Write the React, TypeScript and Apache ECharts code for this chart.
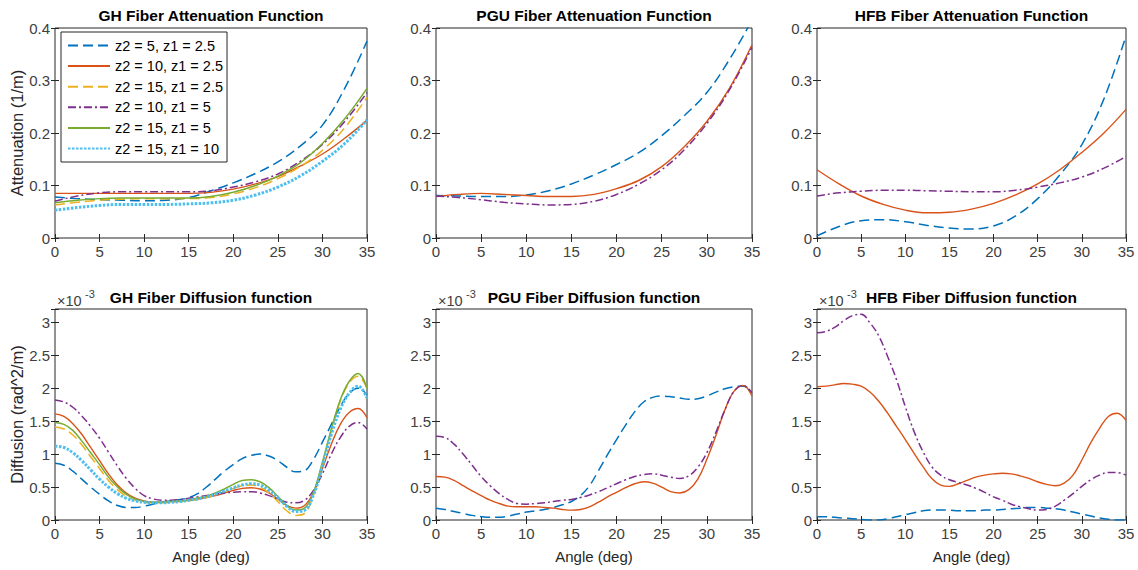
import React, { useEffect, useRef } from 'react';
import * as echarts from 'echarts';

// ---------- data ----------
const ANGLES_ATT = [0, 2.5, 5, 7.5, 10, 12.5, 15, 17.5, 20, 22.5, 25, 27.5, 30, 32.5, 35];
const ANGLES_DIFF = [0, 1, 2, 3, 4, 5, 6, 7, 8, 9, 10, 11, 12, 13, 14, 15, 16, 17, 18, 19, 20, 21, 22, 23, 24, 25, 26, 27, 28, 29, 30, 31, 32, 33, 34, 35];

const SERIES_NAMES = ['z2 = 5, z1 = 2.5', 'z2 = 10, z1 = 2.5', 'z2 = 15, z1 = 2.5', 'z2 = 10, z1 = 5', 'z2 = 15, z1 = 5', 'z2 = 15, z1 = 10'];
const SERIES_COLORS = ['#0072BD', '#D95319', '#EDB120', '#7E2F8E', '#77AC30', '#4DBEEE'];

const PANEL_TITLES = [
  'GH Fiber Attenuation Function',
  'PGU Fiber Attenuation Function',
  'HFB Fiber Attenuation Function',
  'GH Fiber Diffusion function',
  'PGU Fiber Diffusion function',
  'HFB Fiber Diffusion function',
];

// GH attenuation (1/m)
const ghAtt_5_25 = [0.078, 0.075, 0.073, 0.072, 0.071, 0.072, 0.077, 0.09, 0.105, 0.123, 0.145, 0.175, 0.215, 0.285, 0.375];
const ghAtt_10_25 = [0.085, 0.085, 0.085, 0.085, 0.085, 0.085, 0.085, 0.087, 0.093, 0.103, 0.117, 0.137, 0.16, 0.19, 0.224];
const ghAtt_15_25 = [0.063, 0.068, 0.072, 0.074, 0.075, 0.075, 0.075, 0.077, 0.084, 0.096, 0.113, 0.136, 0.167, 0.21, 0.268];
const ghAtt_10_5 = [0.07, 0.08, 0.086, 0.088, 0.088, 0.088, 0.088, 0.09, 0.097, 0.107, 0.122, 0.146, 0.178, 0.222, 0.277];
const ghAtt_15_5 = [0.067, 0.072, 0.075, 0.076, 0.076, 0.076, 0.076, 0.079, 0.087, 0.1, 0.118, 0.143, 0.18, 0.227, 0.285];
const ghAtt_15_10 = [0.053, 0.058, 0.062, 0.064, 0.064, 0.064, 0.065, 0.067, 0.072, 0.082, 0.097, 0.118, 0.146, 0.18, 0.225];

// PGU attenuation
const pguAtt_5_25 = [0.081, 0.08, 0.079, 0.079, 0.082, 0.09, 0.103, 0.12, 0.14, 0.163, 0.195, 0.233, 0.277, 0.34, 0.415];
const pguAtt_10_25 = [0.079, 0.083, 0.085, 0.083, 0.081, 0.079, 0.079, 0.083, 0.094, 0.11, 0.136, 0.174, 0.222, 0.285, 0.368];
const pguAtt_10_5 = [0.08, 0.077, 0.073, 0.068, 0.065, 0.063, 0.064, 0.07, 0.083, 0.103, 0.13, 0.168, 0.218, 0.282, 0.363];

// HFB attenuation
const hfbAtt_5_25 = [0.004, 0.022, 0.033, 0.035, 0.031, 0.024, 0.019, 0.017, 0.023, 0.042, 0.075, 0.12, 0.178, 0.265, 0.385];
const hfbAtt_10_25 = [0.13, 0.103, 0.08, 0.064, 0.053, 0.048, 0.049, 0.055, 0.066, 0.082, 0.103, 0.13, 0.163, 0.2, 0.245];
const hfbAtt_10_5 = [0.08, 0.086, 0.089, 0.091, 0.091, 0.09, 0.089, 0.088, 0.088, 0.091, 0.097, 0.105, 0.116, 0.133, 0.155];

// GH diffusion (x 1e-3 rad^2/m)
const ghDiff_5_25 = [0.86, 0.83, 0.74, 0.62, 0.5, 0.39, 0.29, 0.22, 0.19, 0.19, 0.21, 0.24, 0.27, 0.29, 0.31, 0.34, 0.4, 0.5, 0.62, 0.74, 0.84, 0.93, 0.98, 1.0, 0.97, 0.9, 0.8, 0.73, 0.75, 0.92, 1.18, 1.45, 1.72, 1.92, 2.0, 1.9];
const ghDiff_10_25 = [1.61, 1.57, 1.46, 1.3, 1.1, 0.9, 0.7, 0.53, 0.41, 0.33, 0.29, 0.27, 0.27, 0.28, 0.29, 0.3, 0.32, 0.34, 0.37, 0.41, 0.45, 0.48, 0.49, 0.47, 0.41, 0.32, 0.22, 0.18, 0.22, 0.42, 0.78, 1.15, 1.45, 1.63, 1.69, 1.55];
const ghDiff_15_25 = [1.41, 1.38, 1.29, 1.14, 0.96, 0.78, 0.6, 0.46, 0.36, 0.3, 0.27, 0.26, 0.26, 0.27, 0.28, 0.29, 0.31, 0.34, 0.38, 0.43, 0.48, 0.52, 0.53, 0.5, 0.41, 0.28, 0.14, 0.07, 0.1, 0.38, 0.85, 1.35, 1.8, 2.08, 2.18, 1.99];
const ghDiff_10_5 = [1.82, 1.79, 1.71, 1.58, 1.42, 1.24, 1.03, 0.82, 0.63, 0.48, 0.37, 0.32, 0.3, 0.3, 0.31, 0.33, 0.35, 0.37, 0.39, 0.41, 0.42, 0.43, 0.43, 0.41, 0.37, 0.32, 0.27, 0.26, 0.3, 0.45, 0.7, 1.0, 1.25, 1.42, 1.48, 1.38];
const ghDiff_15_5 = [1.48, 1.45, 1.36, 1.2, 1.02, 0.84, 0.65, 0.5, 0.39, 0.32, 0.28, 0.27, 0.27, 0.28, 0.29, 0.3, 0.33, 0.36, 0.41, 0.47, 0.54, 0.6, 0.61, 0.58, 0.49, 0.36, 0.22, 0.15, 0.18, 0.42, 0.88, 1.38, 1.82, 2.1, 2.22, 2.0];
const ghDiff_15_10 = [1.12, 1.1, 1.02, 0.9, 0.76, 0.62, 0.5, 0.4, 0.33, 0.29, 0.27, 0.26, 0.26, 0.27, 0.28, 0.3, 0.32, 0.35, 0.39, 0.44, 0.49, 0.53, 0.55, 0.53, 0.45, 0.34, 0.21, 0.13, 0.15, 0.38, 0.82, 1.3, 1.68, 1.92, 2.03, 1.85];

// PGU diffusion
const pguDiff_5_25 = [0.18, 0.16, 0.13, 0.1, 0.07, 0.05, 0.04, 0.04, 0.06, 0.09, 0.12, 0.14, 0.16, 0.19, 0.23, 0.28, 0.37, 0.52, 0.75, 0.99, 1.22, 1.44, 1.64, 1.79, 1.86, 1.88, 1.87, 1.85, 1.83, 1.84, 1.88, 1.94, 1.99, 2.02, 2.03, 1.98];
const pguDiff_10_25 = [0.66, 0.65, 0.6, 0.52, 0.44, 0.37, 0.3, 0.25, 0.21, 0.2, 0.2, 0.2, 0.19, 0.18, 0.16, 0.15, 0.16, 0.2, 0.27, 0.35, 0.42, 0.49, 0.55, 0.58, 0.56, 0.5, 0.43, 0.41, 0.46, 0.62, 0.92, 1.28, 1.67, 1.95, 2.04, 1.88];
const pguDiff_10_5 = [1.27, 1.25, 1.15, 1.0, 0.83, 0.66, 0.52, 0.4, 0.31, 0.25, 0.24, 0.25, 0.26, 0.28, 0.3, 0.31, 0.34, 0.38, 0.43, 0.49, 0.55, 0.61, 0.66, 0.69, 0.7, 0.68, 0.65, 0.63, 0.67, 0.8, 1.02, 1.33, 1.67, 1.95, 2.04, 1.93];

// HFB diffusion
const hfbDiff_5_25 = [0.05, 0.05, 0.04, 0.03, 0.02, 0.01, 0.0, 0.0, 0.02, 0.05, 0.08, 0.11, 0.14, 0.15, 0.15, 0.15, 0.14, 0.14, 0.14, 0.15, 0.15, 0.16, 0.17, 0.18, 0.19, 0.19, 0.18, 0.17, 0.15, 0.12, 0.09, 0.06, 0.03, 0.01, 0.0, 0.0];
const hfbDiff_10_25 = [2.02, 2.03, 2.05, 2.07, 2.06, 2.03, 1.94, 1.8, 1.62, 1.42, 1.22, 1.01, 0.81, 0.63, 0.53, 0.51, 0.55, 0.6, 0.65, 0.68, 0.7, 0.71, 0.7, 0.67, 0.63, 0.58, 0.54, 0.52, 0.56, 0.68, 0.91, 1.17, 1.39, 1.57, 1.62, 1.51];
const hfbDiff_10_5 = [2.84, 2.86, 2.92, 3.02, 3.1, 3.12, 2.99, 2.79, 2.48, 2.13, 1.72, 1.34, 1.04, 0.81, 0.68, 0.61, 0.57, 0.53, 0.48, 0.42, 0.35, 0.3, 0.24, 0.2, 0.17, 0.15, 0.16, 0.21, 0.3, 0.4, 0.51, 0.61, 0.68, 0.72, 0.72, 0.68];

// each panel: x values and [seriesIndex, values] pairs
const PANELS: { x: number[]; lines: [number, number[]][] }[] = [
  { x: ANGLES_ATT, lines: [[0, ghAtt_5_25], [1, ghAtt_10_25], [2, ghAtt_15_25], [3, ghAtt_10_5], [4, ghAtt_15_5], [5, ghAtt_15_10]] },
  { x: ANGLES_ATT, lines: [[0, pguAtt_5_25], [1, pguAtt_10_25], [3, pguAtt_10_5]] },
  { x: ANGLES_ATT, lines: [[0, hfbAtt_5_25], [1, hfbAtt_10_25], [3, hfbAtt_10_5]] },
  { x: ANGLES_DIFF, lines: [[0, ghDiff_5_25], [1, ghDiff_10_25], [2, ghDiff_15_25], [3, ghDiff_10_5], [4, ghDiff_15_5], [5, ghDiff_15_10]] },
  { x: ANGLES_DIFF, lines: [[0, pguDiff_5_25], [1, pguDiff_10_25], [3, pguDiff_10_5]] },
  { x: ANGLES_DIFF, lines: [[0, hfbDiff_5_25], [1, hfbDiff_10_25], [3, hfbDiff_10_5]] },
];

// ---------- styles / layout ----------
const FONT = '"Liberation Sans", Arial, Helvetica, sans-serif';
const AXIS_COLOR = '#262626';
const LABEL_COLOR = '#404040';
const LINE_TYPES: any[] = [[10, 5], 'solid', [10, 5], [8, 3, 2, 3], 'solid', [2.5, 1.5]];
const LINE_WIDTHS = [1.5, 1.4, 1.5, 1.5, 1.5, 3];
const COLS = [
  { left: 55, width: 312 },
  { left: 436, width: 316 },
  { left: 817, width: 309 },
];
const ROWS = [
  { top: 28, height: 210 },
  { top: 309, height: 211 },
];

function buildOption() {
  const grid: any[] = [];
  const xAxis: any[] = [];
  const yAxis: any[] = [];
  const series: any[] = [];
  const graphic: any[] = [];

  PANELS.forEach((panel, i) => {
    const col = COLS[i % 3];
    const row = ROWS[Math.floor(i / 3)];
    const isBottom = i >= 3;
    grid.push({
      left: col.left, top: row.top, width: col.width, height: row.height,
      show: true, borderColor: AXIS_COLOR, borderWidth: 1, backgroundColor: '#fff',
    });
    const tick = { show: true, inside: true, length: 4, lineStyle: { color: AXIS_COLOR, width: 1 } };
    const xBase = {
      type: 'value', gridIndex: i, min: 0, max: 35, interval: 5,
      splitLine: { show: false }, axisLine: { show: false }, axisTick: tick,
    };
    xAxis.push({
      ...xBase, position: 'bottom',
      axisLabel: { show: true, margin: 6, color: LABEL_COLOR, fontSize: 15, fontFamily: FONT },
      name: isBottom ? 'Angle (deg)' : '', nameLocation: 'middle', nameGap: 29,
      nameTextStyle: { color: AXIS_COLOR, fontSize: 15, fontFamily: FONT },
    });
    xAxis.push({ ...xBase, position: 'top', axisLabel: { show: false } });

    const yMax = isBottom ? 3.2 : 0.4;
    const yInt = isBottom ? 0.5 : 0.1;
    const yBase = {
      type: 'value', gridIndex: i, min: 0, max: yMax, interval: yInt,
      splitLine: { show: false }, axisLine: { show: false }, axisTick: tick,
    };
    const yName = i === 0 ? 'Attenuation (1/m)' : i === 3 ? 'Diffusion (rad^2/m)' : '';
    yAxis.push({
      ...yBase, position: 'left',
      axisLabel: {
        show: true, margin: 5, color: LABEL_COLOR, fontSize: 15, fontFamily: FONT,
        formatter: (v: number) => {
          const k = v / yInt;
          return Math.abs(k - Math.round(k)) < 1e-6 ? String(+v.toFixed(2)) : '';
        },
      },
      name: yName, nameLocation: 'middle', nameGap: 30,
      nameTextStyle: { color: AXIS_COLOR, fontSize: 16.5, fontFamily: FONT },
    });
    yAxis.push({ ...yBase, position: 'right', axisLabel: { show: false } });

    panel.lines.forEach(([si, vals]) => {
      series.push({
        type: 'line', name: SERIES_NAMES[si],
        xAxisIndex: 2 * i, yAxisIndex: 2 * i,
        data: panel.x.map((xv, k) => [xv, vals[k]]),
        symbol: 'none', showSymbol: false, smooth: 0.4, clip: true,
        lineStyle: { color: SERIES_COLORS[si], width: LINE_WIDTHS[si], type: LINE_TYPES[si] },
        itemStyle: { color: SERIES_COLORS[si] },
        emphasis: { disabled: true },
      });
    });

    graphic.push({
      type: 'text', x: col.left + col.width / 2, y: isBottom ? 297.5 : 15.5, z: 10,
      style: {
        text: PANEL_TITLES[i], fill: '#000', fontSize: 15.5, fontWeight: 'bold', fontFamily: FONT,
        align: 'center', verticalAlign: 'middle',
      },
    });
    if (isBottom) {
      graphic.push({
        type: 'text', x: col.left + 2, y: 301, z: 10,
        style: { text: '×10', fill: LABEL_COLOR, fontSize: 14.5, fontFamily: FONT, align: 'left', verticalAlign: 'middle' },
      });
      graphic.push({
        type: 'text', x: col.left + 30, y: 294, z: 10,
        style: { text: '-3', fill: LABEL_COLOR, fontSize: 11, fontFamily: FONT, align: 'left', verticalAlign: 'middle' },
      });
    }
  });

  return {
    animation: false,
    backgroundColor: '#fff',
    grid, xAxis, yAxis, series, graphic,
    legend: {
      show: true, orient: 'vertical', left: 61, top: 32,
      data: SERIES_NAMES, itemWidth: 42, itemHeight: 14, itemGap: 5.6,
      padding: [6, 4, 6, 6], backgroundColor: '#fff',
      borderColor: AXIS_COLOR, borderWidth: 1, borderRadius: 0,
      selectedMode: false,
      itemStyle: { color: 'rgba(0,0,0,0)', borderWidth: 0, opacity: 0 },
      textStyle: { fontSize: 14.5, color: '#000', fontFamily: FONT },
    },
  };
}

export default function App() {
  const ref = useRef<HTMLDivElement>(null);
  useEffect(() => {
    if (!ref.current) return;
    const chart = echarts.init(ref.current, null, { renderer: 'svg' });
    chart.setOption(buildOption() as any);
    return () => chart.dispose();
  }, []);
  return (
    <div
      ref={ref}
      style={{ position: 'fixed', left: 0, top: 0, width: 1138, height: 570, background: '#fff' }}
    />
  );
}
